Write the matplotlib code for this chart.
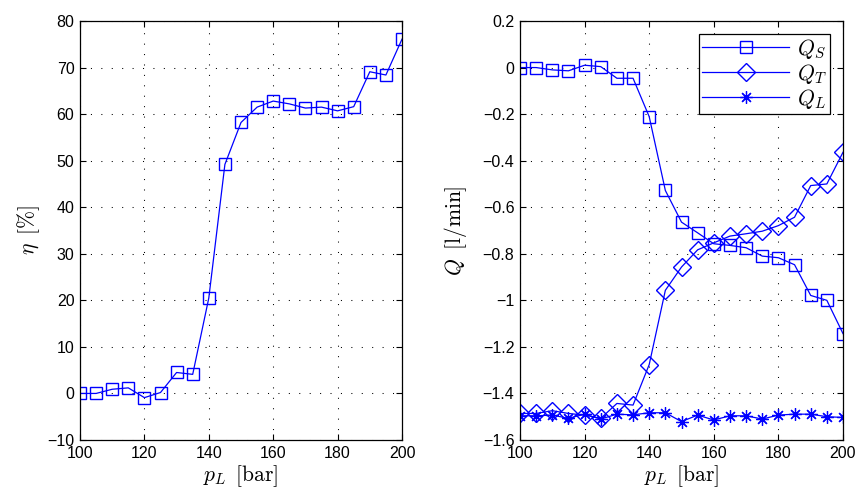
import numpy as np
import matplotlib
matplotlib.use("Agg")
import matplotlib.pyplot as plt

plt.rcParams['font.family'] = ['Liberation Sans', 'DejaVu Sans']
plt.rcParams['mathtext.fontset'] = 'cm'
plt.rcParams['axes.unicode_minus'] = True

p_L = [100, 105, 110, 115, 120, 125, 130, 135, 140, 145, 150,
       155, 160, 165, 170, 175, 180, 185, 190, 195, 200]
eta = [0.0, 0.0, 0.9, 1.2, -0.9, 0.2, 4.5, 4.1, 20.5, 49.2, 58.2,
       61.5, 62.8, 62.2, 61.3, 61.5, 60.7, 61.6, 69.1, 68.4, 76.1]
Q_S = [0.0, 0.0, -0.01, -0.014, 0.01, 0.004, -0.046, -0.046, -0.211, -0.528, -0.664,
       -0.71, -0.757, -0.764, -0.774, -0.81, -0.817, -0.847, -0.979, -1.0, -1.143]
Q_T = [-1.486, -1.486, -1.474, -1.486, -1.493, -1.507, -1.443, -1.45, -1.276, -0.957, -0.857,
       -0.783, -0.753, -0.724, -0.714, -0.703, -0.679, -0.643, -0.507, -0.5, -0.364]
Q_L = [-1.496, -1.496, -1.493, -1.507, -1.489, -1.51, -1.489, -1.492, -1.483, -1.483, -1.521,
       -1.493, -1.514, -1.496, -1.496, -1.51, -1.493, -1.489, -1.489, -1.5, -1.503]

x_ticks = [100, 120, 140, 160, 180, 200]
eta_ticks = [-10, 0, 10, 20, 30, 40, 50, 60, 70, 80]
Q_ticks = [-1.6, -1.4, -1.2, -1, -0.8, -0.6, -0.4, -0.2, 0, 0.2]
Q_ticklabels = ['\u22121.6', '\u22121.4', '\u22121.2', '\u22121', '\u22120.8',
                '\u22120.6', '\u22120.4', '\u22120.2', '0', '0.2']
eta_ticklabels = ['\u221210', '0', '10', '20', '30', '40', '50', '60', '70', '80']

fig = plt.figure(figsize=(8.58, 4.98), dpi=100)
ax1 = fig.add_axes([80/858, 1-440/498, 322/858, 419/498])
ax2 = fig.add_axes([520/858, 1-440/498, 323/858, 419/498])

blue = (0, 0, 1)
asterisk = (8, 2, 0)

def style(ax):
    ax.tick_params(direction='in', top=True, right=True, length=4, width=0.8,
                   labelsize=11.5, pad=4, colors='black')
    for s in ax.spines.values():
        s.set_linewidth(0.9)
    ax.grid(True, color='black', linestyle=(0, (1, 9)), linewidth=0.75)
    ax.set_axisbelow(True)

ax1.plot(p_L, eta, color=blue, lw=0.9, marker='s', ms=9, mfc='none', mec=blue, mew=1.0)
ax1.set_xlim(100, 200)
ax1.set_ylim(-10, 80)
ax1.set_xticks(x_ticks)
ax1.set_yticks(eta_ticks)
ax1.set_yticklabels(eta_ticklabels)
ax1.set_xlabel(r'$p_L\ \, [\mathrm{bar}]$', fontsize=15.5, labelpad=2)
ax1.set_ylabel(r'$\eta\ \, [\%]$', fontsize=15.5, labelpad=4)
style(ax1)

ax2.plot(p_L, Q_S, color=blue, lw=0.9, marker='s', ms=9, mfc='none', mec=blue, mew=1.0, label=r'$Q_S$')
ax2.plot(p_L, Q_T, color=blue, lw=0.9, marker='D', ms=9, mfc='none', mec=blue, mew=1.0, label=r'$Q_T$')
ax2.plot(p_L, Q_L, color=blue, lw=0.9, marker=asterisk, ms=9, mfc='none', mec=blue, mew=0.9, label=r'$Q_L$')
ax2.set_xlim(100, 200)
ax2.set_ylim(-1.6, 0.2)
ax2.set_xticks(x_ticks)
ax2.set_yticks(Q_ticks)
ax2.set_yticklabels(Q_ticklabels)
ax2.set_xlabel(r'$p_L\ \, [\mathrm{bar}]$', fontsize=15.5, labelpad=2)
ax2.set_ylabel(r'$Q\ \, [\mathrm{l/min}]$', fontsize=15.5, labelpad=10)
style(ax2)

leg = ax2.legend(loc='upper right', fontsize=15.5, frameon=True, fancybox=False,
                 edgecolor='black', framealpha=1, handlelength=4.0, handletextpad=0.4,
                 borderpad=0.15, labelspacing=0.05, borderaxespad=0.6)
leg.get_frame().set_linewidth(0.9)

fig.savefig('out.png', dpi=100)
